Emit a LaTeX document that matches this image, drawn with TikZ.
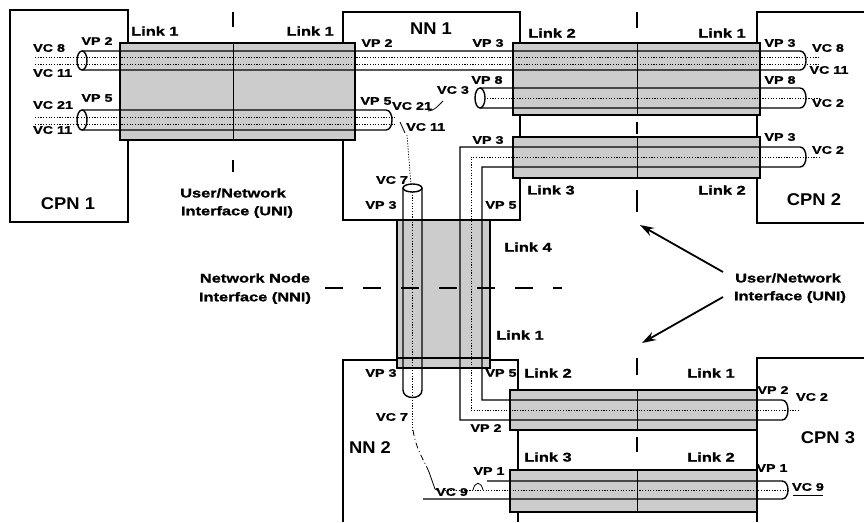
\documentclass[tikz,border=0pt]{standalone}
\usepackage{fontspec}
\newfontfamily\labfont{Liberation Sans}[FakeStretch=1.3,FakeBold=1.2]
\newfontfamily\bigfont{Liberation Sans}[FakeStretch=1.08]
\usetikzlibrary{arrows.meta}
\begin{document}
\begin{tikzpicture}[x=1pt,y=-1pt,
  frame/.style={line width=1.8pt},
  linkbox/.style={draw,line width=1.8pt,fill=black!20},
  tube/.style={line width=1.4pt},
  vcline/.style={line width=0.75pt,dash pattern=on 1.2pt off 1.5pt},
  thinl/.style={line width=0.8pt},
  lbl/.style={font=\labfont\bfseries\fontsize{11}{13}\selectfont,inner sep=0pt},
  lnk/.style={font=\labfont\bfseries\fontsize{12.6}{14}\selectfont,inner sep=0pt},
  big/.style={font=\bigfont\bfseries\fontsize{17}{19}\selectfont,inner sep=0pt},
  uni/.style={line width=1.4pt},
  arr/.style={line width=1.8pt,-{Stealth[length=14pt,width=9pt]}}]
\useasboundingbox (0,0) rectangle (864,522);
\fill[white] (0,0) rectangle (864,522);

% frames of CPNs and NNs
\draw[frame] (10,10) rectangle (128,222);
\draw[frame] (343,12) rectangle (520,220);
\draw[frame] (864,12) -- (757,12) -- (757,223) -- (864,223);
\draw[frame] (343,522) -- (343,360) -- (518,360) -- (518,522);
\draw[frame] (864,358) -- (757,358) -- (757,522);

% links
\draw[linkbox] (120,43) rectangle (355,140);
\draw[linkbox] (513,43) rectangle (760,115);
\draw[linkbox] (513,137) rectangle (760,178);
\draw[linkbox] (397,220) rectangle (490,368);
\draw[frame] (397,358) -- (490,358);
\draw[linkbox] (510,390) rectangle (757,430);
\draw[linkbox] (510,470) rectangle (757,512);

% UNI / NNI boundary lines
\draw[uni] (233,12) -- (233,27);
\draw[uni] (233,160) -- (233,172);
\draw[thinl] (233,43) -- (233,140);
\draw[uni] (637,12) -- (637,28);
\draw[uni] (637,122) -- (637,134);
\draw[uni] (637,190) -- (637,212);
\draw[uni] (637,358) -- (637,375);
\draw[uni] (637,437) -- (637,452);
\draw[thinl] (637,43) -- (637,115);
\draw[thinl] (637,137) -- (637,178);
\draw[thinl] (637,390) -- (637,430);
\draw[thinl] (637,470) -- (637,512);
\draw[line width=1.1pt,dash pattern=on 18pt off 20pt] (325,288) -- (562,288);

% virtual paths (tubes)
\draw[tube] (82,51) -- (800,51) .. controls (808,51) and (808,70) .. (800,70) -- (82,70);
\draw[tube] (82,60.5) ellipse [x radius=5,y radius=9.5];
\draw[tube] (82,110) -- (386,110) .. controls (394,110) and (394,130) .. (386,130) -- (82,130);
\draw[tube] (82,120) ellipse [x radius=5,y radius=10];
\draw[tube] (480,88) -- (800,88) .. controls (808,88) and (808,108) .. (800,108) -- (480,108);
\draw[tube] (480,98) ellipse [x radius=5,y radius=10];
\draw[tube,line join=miter] (800,167) -- (482,167) -- (482,400) -- (782,400)
   .. controls (790,400) and (790,420) .. (782,420) -- (460,420) -- (460,147) -- (800,147)
   .. controls (808,147) and (808,167) .. (800,167);
\draw[tube] (403,188) -- (403,390) .. controls (403,400) and (422,400) .. (422,390) -- (422,188);
\draw[tube] (412.5,188) ellipse [x radius=9.5,y radius=4];
\draw[tube] (487,481) -- (782,481) .. controls (790,481) and (790,499) .. (782,499) -- (423,499);
\draw[thinl] (473,490) .. controls (475,481) and (481,481) .. (483,490);

% virtual channels
\draw[vcline] (35,57) -- (820,57);
\draw[vcline] (35,64) -- (820,64);
\draw[vcline] (35,117) -- (395,117);
\draw[vcline] (35,124) -- (395,124);
\draw[vcline] (487,98) -- (820,98);
\draw[vcline] (820,157) -- (471,157) -- (471,410) -- (800,410);
\draw[vcline] (412.5,192) -- (412.5,430);
\draw[vcline] (407,135) -- (411,185);
\draw[vcline] (445,490) -- (790,490);
\draw[thinl] (400,122) -- (405,133);
\draw[thinl] (428,111) .. controls (434,111) and (438,106) .. (443,101);
\draw[line width=0.8pt,dash pattern=on 6pt off 3pt on 1pt off 3pt] (413,430) .. controls (416,450) and (425,462) .. (429,472);
\draw[thinl] (429,472) -- (435,489) -- (439,491);
\draw[thinl] (793,495) -- (823,495);

% labels: CPN 1 side
\node[big] (cpn1) at (68,204) {CPN 1};
\node[lnk,anchor=west] (lk1a) at (131,31) {Link 1};
\node[lnk,anchor=east] (lk1b) at (334,31) {Link 1};
\node[lbl] (vp2a) at (97,41) {VP 2};
\node[lbl,anchor=west] (vc8a) at (33,48) {VC 8};
\node[lbl,anchor=west] (vc11a) at (33,73) {VC 11};
\node[lbl] (vp5a) at (97,98) {VP 5};
\node[lbl,anchor=west] (vc21a) at (33,105) {VC 21};
\node[lbl,anchor=west] (vc11b) at (33,130) {VC 11};
\node[lnk] (uniL1) at (233,193) {User/Network};
\node[lnk] (uniL2) at (237,212) {Interface (UNI)};

% NN 1
\node[big] (nn1) at (431,29) {NN 1};
\node[lbl] (vp2b) at (377,43) {VP 2};
\node[lbl] (vp3a) at (488,43) {VP 3};
\node[lbl] (vp8b) at (487,80) {VP 8};
\node[lbl] (vc3) at (453,90) {VC 3};
\node[lbl] (vp5b) at (376,101) {VP 5};
\node[lbl,anchor=west] (vc21b) at (392,106) {VC 21};
\node[lbl,anchor=west] (vc11d) at (406,127) {VC 11};
\node[lbl] (vp3d) at (488,140) {VP 3};
\node[lbl] (vc7a) at (392,180) {VC 7};
\node[lbl] (vp3e) at (381,205) {VP 3};
\node[lbl] (vp5c) at (501,205) {VP 5};

% CPN 2 side
\node[lnk] (lk2a) at (552,33) {Link 2};
\node[lnk] (lk1c) at (722,33) {Link 1};
\node[lbl] (vp3b) at (780,43) {VP 3};
\node[lbl] (vc8b) at (828,48) {VC 8};
\node[lbl] (vc11c) at (829,70) {VC 11};
\node[lbl] (vp8a) at (780,80) {VP 8};
\node[lbl] (vc2a) at (828,103) {VC 2};
\node[lbl] (vp3c) at (780,137) {VP 3};
\node[lbl] (vc2b) at (828,150) {VC 2};
\node[lnk] (lk3a) at (551,190) {Link 3};
\node[lnk] (lk2b) at (722,190) {Link 2};
\node[big] (cpn2) at (814,200) {CPN 2};

% middle
\node[lnk] (lk4) at (528,247) {Link 4};
\node[lnk] (nni1) at (255,278) {Network Node};
\node[lnk] (nni2) at (255,298) {Interface (NNI)};
\node[lnk] (lk1d) at (520,335) {Link 1};
\node[lnk] (uniR1) at (788,278) {User/Network};
\node[lnk] (uniR2) at (790,297) {Interface (UNI)};
\coordinate (s1) at (723,272);
\coordinate (t1) at (640,225);
\coordinate (s2) at (723,297);
\coordinate (t2) at (642,343);
\draw[arr] (s1) -- (t1);
\draw[arr] (s2) -- (t2);

% NN 2 and CPN 3
\node[lbl] (vp3f) at (381,373) {VP 3};
\node[lbl] (vp5d) at (501,373) {VP 5};
\node[lnk] (lk2c) at (548,373) {Link 2};
\node[lnk] (lk1e) at (711,373) {Link 1};
\node[lbl] (vp2c) at (773,390) {VP 2};
\node[lbl] (vc2c) at (812,397) {VC 2};
\node[lbl] (vc7b) at (392,417) {VC 7};
\node[lbl] (vp2d) at (486,428) {VP 2};
\node[big] (nn2) at (370,448) {NN 2};
\node[big] (cpn3) at (828,438) {CPN 3};
\node[lnk] (lk3b) at (548,457) {Link 3};
\node[lnk] (lk2d) at (711,457) {Link 2};
\node[lbl] (vp1a) at (489,471) {VP 1};
\node[lbl] (vc9a) at (452,492) {VC 9};
\node[lbl] (vp1b) at (772,468) {VP 1};
\node[lbl] (vc9b) at (808,487) {VC 9};
\end{tikzpicture}
\end{document}
